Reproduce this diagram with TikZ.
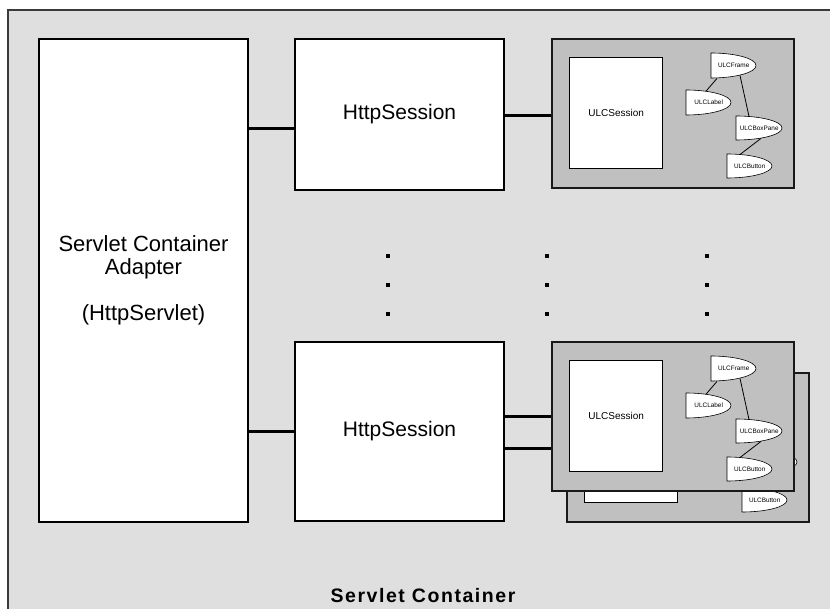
\documentclass[tikz,border=0pt]{standalone}
\usepackage{fontspec}
\setmainfont{Liberation Sans}
\usetikzlibrary{calc}
\definecolor{outerfill}{HTML}{DFDFDF}
\definecolor{panelfill}{HTML}{C0C0C0}
\definecolor{outerline}{HTML}{3A3A3A}
\tikzset{
  outerbox/.style={fill=outerfill, draw=outerline, line width=1.6pt},
  bigbox/.style={fill=white, draw=black, line width=2pt, inner sep=0pt, anchor=north west},
  panel/.style={fill=panelfill, draw=black!90, line width=1.6pt, inner sep=0pt, anchor=north west},
  sessbox/.style={fill=white, draw=black, line width=1.3pt, inner sep=0pt, anchor=north west, font=\fontsize{10}{12}\selectfont},
  ovalline/.style={fill=white, draw=black, line width=0.6pt},
  ovaltext/.style={inner sep=0pt, anchor=north west, font=\fontsize{6.4}{7}\selectfont},
  tree/.style={draw=black, line width=0.8pt},
  link/.style={draw=black, line width=3pt},
  dotmark/.style={fill=black}
}
\newcommand{\ulcoval}[6]{%
  \draw[ovalline] (#2,#3+#5) -- (#2,#3) arc[start angle=90, end angle=-90, x radius=#4pt, y radius={#5*0.5pt}] -- cycle;
  \node[ovaltext, minimum width=#4pt, minimum height=#5pt] (#1) at (#2,#3) {#6};}
\newcommand{\ulcpanel}[3]{%
  \begin{scope}[shift={(#2,#3)}]
    \node[panel, minimum width=242pt, minimum height=149pt] (#1box) at (0,0) {};
    \node[sessbox, minimum width=93pt, minimum height=111pt] (#1sess) at (18,19) {ULCSession};
    \ulcoval{#1frame}{160}{15}{45}{25}{ULCFrame}
    \ulcoval{#1label}{135}{52}{45}{25}{ULCLabel}
    \ulcoval{#1pane}{185}{78}{46}{24}{ULCBoxPane}
    \ulcoval{#1button}{176}{116}{45}{24}{ULCButton}
    \draw[tree] ($(#1frame.south west)+(6,0)$) -- ($(#1label.north west)+(20,1.2)$);
    \draw[tree] ($(#1frame.south west)+(29,-3)$) -- ($(#1pane.north west)+(13,0.5)$);
    \draw[tree] ($(#1pane.south west)+(25,-2)$) -- ($(#1button.north west)+(13,0.5)$);
  \end{scope}}
\begin{document}
\begin{tikzpicture}[x=1pt, y=-1pt]
  \useasboundingbox (0,0) rectangle (830,609);
  \clip (0,0) rectangle (830,609);
  \draw[outerbox] (8,10) rectangle (850,630);

  \node[bigbox, minimum width=209pt, minimum height=483pt, align=center,
        font=\fontsize{22}{23}\selectfont] (adapter) at (38,38)
        {Servlet Container\\Adapter\\[23pt](HttpServlet)};
  \node[bigbox, minimum width=209pt, minimum height=151pt,
        font=\fontsize{21}{24}\selectfont] (http1) at (294,38) {HttpSession};
  \node[bigbox, minimum width=209pt, minimum height=179pt,
        font=\fontsize{21}{24}\selectfont] (http2) at (294,341) {HttpSession};

  \coordinate (ya) at (0,129);
  \coordinate (yb) at (0,116);
  \coordinate (yc) at (0,417);
  \coordinate (yd) at (0,448);

  \draw[link] (adapter.east |- ya) -- (http1.west |- ya);
  \draw[link] (adapter.east |- http2.west) -- (http2.west);

  \ulcpanel{back}{566}{372}
  \ulcpanel{front}{551}{341}
  \ulcpanel{top}{551}{38}

  \draw[link] (http1.east |- yb) -- (topbox.west |- yb);
  \draw[link] (http2.east |- yc) -- (frontbox.west |- yc);
  \draw[link] (http2.east |- yd) -- (frontbox.west |- yd);

  \foreach \x in {388,547,707}
    \foreach \y in {256,285,314}
      \fill[dotmark] (\x-2,\y-2) rectangle (\x+2,\y+2);

  \node[anchor=base, inner sep=0pt,
        font=\fontsize{19.5}{22}\selectfont\bfseries\addfontfeature{LetterSpace=8}]
        (title) at (423,602) {Servlet Container};
\end{tikzpicture}
\end{document}
